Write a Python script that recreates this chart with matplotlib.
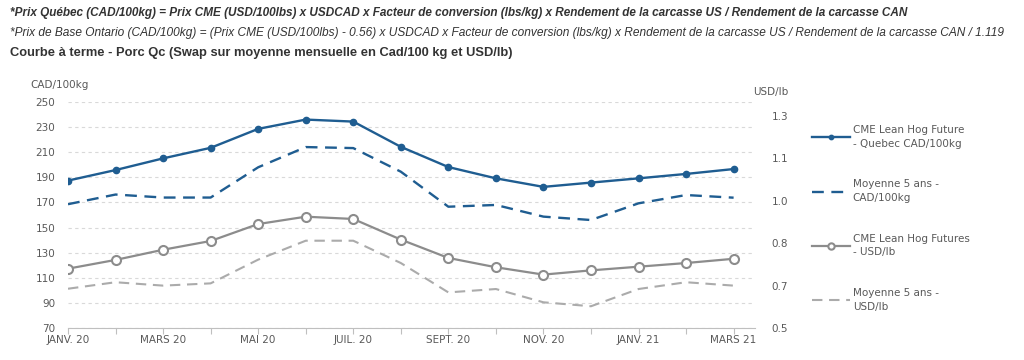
import matplotlib.pyplot as plt

# months of the forward curve (only every other one is labelled on the axis)
months = ["JANV. 20", "FÉVR. 20", "MARS 20", "AVR. 20", "MAI 20", "JUIN 20", "JUIL. 20",
          "AOÛT 20", "SEPT. 20", "OCT. 20", "NOV. 20", "DÉC. 20", "JANV. 21", "FÉVR. 21", "MARS 21"]

# CAD/100kg (left axis)
quebec_cad = [187.4, 195.8, 205.1, 213.5, 228.6, 236.0, 234.4, 214.3,
              198.2, 189.2, 182.4, 185.8, 189.2, 192.7, 196.6]
moy5_cad = [168.6, 176.3, 173.9, 173.9, 198.0, 214.1, 213.3, 194.5,
            166.6, 168.0, 158.7, 156.0, 169.3, 175.9, 173.8]

# USD/lb (right axis)
cme_usd = [0.710, 0.741, 0.777, 0.808, 0.868, 0.894, 0.886, 0.813,
           0.748, 0.715, 0.689, 0.704, 0.717, 0.730, 0.745]
moy5_usd = [0.639, 0.662, 0.650, 0.658, 0.742, 0.809, 0.809, 0.730,
            0.626, 0.638, 0.591, 0.577, 0.638, 0.662, 0.650]

left_ticks = [70, 90, 110, 130, 150, 170, 190, 210, 230, 250]
right_ticks = [0.5, 0.65, 0.8, 0.95, 1.1, 1.25]
right_labels = ["0.5", "0.7", "0.8", "1.0", "1.1", "1.3"]

blue = "#1f5d91"
gray = "#8c8c8c"
gray_light = "#ababab"
txt = "#595959"
tick_font = 7.5

fig = plt.figure(figsize=(10.24, 3.6), dpi=100)
ax = fig.add_axes([68 / 1024, 1 - 328 / 360, (755 - 68) / 1024, 226 / 360])
ax2 = ax.twinx()

x = list(range(len(months)))

l1, = ax.plot(x, quebec_cad, color=blue, lw=1.7, marker="o", ms=4.5, zorder=4,
              label="CME Lean Hog Future\n- Quebec CAD/100kg")
l2, = ax.plot(x, moy5_cad, color=blue, lw=1.7, ls=(0, (5, 3.2)), zorder=3,
              label="Moyenne 5 ans -\nCAD/100kg")
l3, = ax2.plot(x, cme_usd, color=gray, lw=1.6, marker="o", ms=6.5, mfc="white",
               mec=gray, mew=1.5, zorder=4, label="CME Lean Hog Futures\n- USD/lb")
l4, = ax2.plot(x, moy5_usd, color=gray_light, lw=1.5, ls=(0, (5, 3.2)), zorder=3,
               label="Moyenne 5 ans -\nUSD/lb")

ax.set_xlim(0, 14.45)
ax.set_ylim(70, 250)
ax2.set_ylim(0.5, 1.3)

ax.set_yticks(left_ticks)
ax.set_yticklabels([str(v) for v in left_ticks])
ax2.set_yticks(right_ticks)
ax2.set_yticklabels(right_labels)

ax.set_xticks(x)
ax.set_xticklabels([m if i % 2 == 0 else "" for i, m in enumerate(months)])

ax.grid(axis="y", color="#d9d9d9", ls=(0, (3, 3)), lw=0.8)
ax.set_axisbelow(True)

for a in (ax, ax2):
    for s in a.spines.values():
        s.set_visible(False)
ax.spines["bottom"].set_visible(True)
ax.spines["bottom"].set_color("#bfbfbf")

ax.tick_params(axis="x", length=4, color="#bfbfbf", labelsize=tick_font, labelcolor=txt, pad=1)
ax.tick_params(axis="y", length=0, labelsize=tick_font, labelcolor=txt, pad=9)
ax2.tick_params(axis="y", length=0, labelsize=tick_font, labelcolor=txt, pad=12)

fig.text(30 / 1024, 1 - 85 / 360, "CAD/100kg", fontsize=tick_font, color=txt, va="center")
fig.text(753 / 1024, 1 - 92 / 360, "USD/lb", fontsize=tick_font, color=txt, va="center")

leg = fig.legend(handles=[l1, l2, l3, l4], loc="upper left",
                 bbox_to_anchor=(808 / 1024, 1 - 121 / 360),
                 frameon=False, fontsize=tick_font, labelcolor=txt, handlelength=3.6,
                 handletextpad=0.3, labelspacing=2.95, borderaxespad=0, markerscale=0.7)
for t in leg.get_texts():
    t.set_linespacing(1.45)

# header lines
fig.text(10 / 1024, 1 - 13 / 360,
         "*Prix Québec (CAD/100kg) = Prix CME (USD/100lbs) x USDCAD x Facteur de conversion "
         "(lbs/kg) x Rendement de la carcasse US / Rendement de la carcasse CAN",
         fontsize=8.45, family="Liberation Sans", style="italic", weight="bold", color="#333333",
         va="center")
fig.text(10 / 1024, 1 - 33 / 360,
         "*Prix de Base Ontario (CAD/100kg) = (Prix CME (USD/100lbs) - 0.56) x USDCAD x Facteur "
         "de conversion (lbs/kg) x Rendement de la carcasse US / Rendement de la carcasse CAN / 1.119",
         fontsize=8.6, family="Liberation Sans", style="italic", color="#333333", va="center")
fig.text(10 / 1024, 1 - 53 / 360,
         "Courbe à terme - Porc Qc (Swap sur moyenne mensuelle en Cad/100 kg et USD/lb)",
         fontsize=9.3, family="Liberation Sans", weight="bold", color="#333333", va="center")

fig.savefig("out.png", dpi=100)
